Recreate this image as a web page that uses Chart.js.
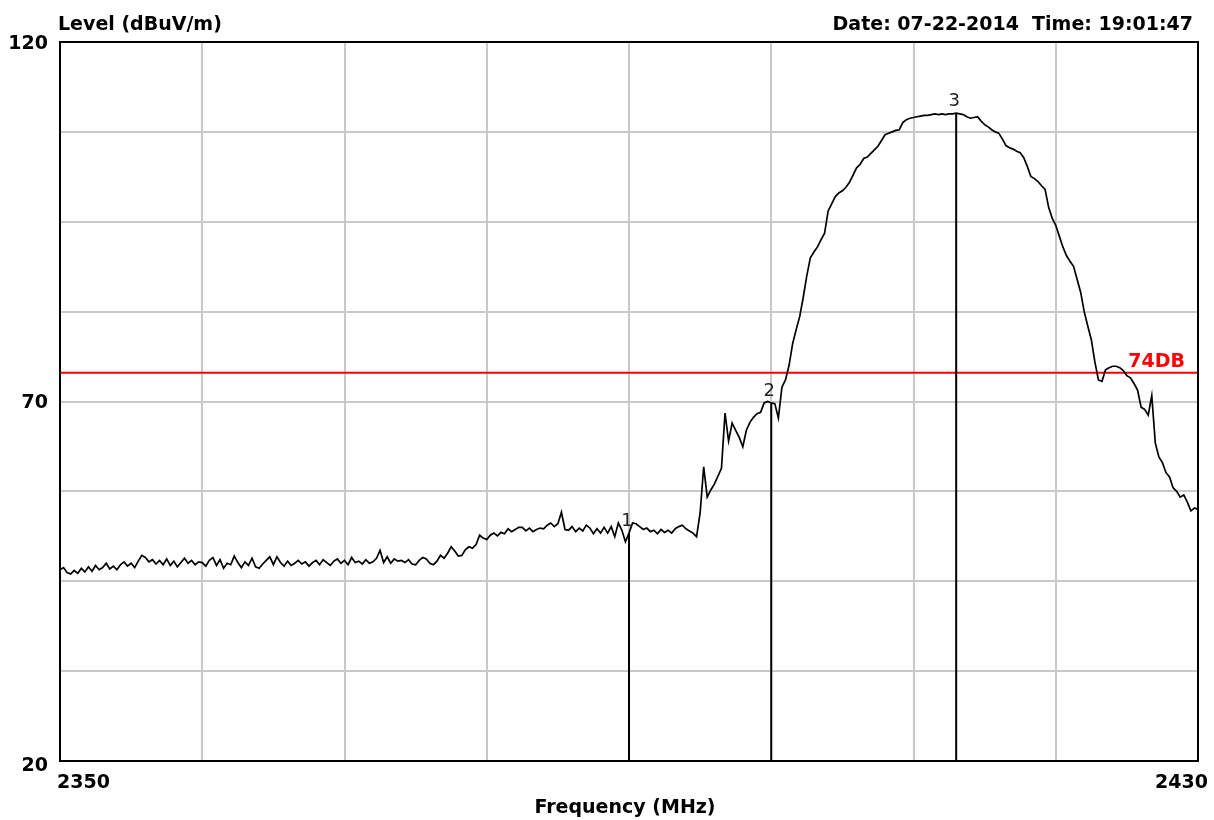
<!DOCTYPE html>
<html>
<head>
<meta charset="utf-8">
<script src="https://cdn.jsdelivr.net/npm/chart.js@4.4.1/dist/chart.umd.min.js"></script>
<style>
  html, body { margin: 0; padding: 0; background: #ffffff; }
  #wrap { width: 1214px; height: 820px; }
</style>
</head>
<body>
<div id="wrap"><canvas id="c" width="1214" height="820"></canvas></div>
<script>
// ---- data ----
const F_START = 2350;
const F_STEP = 0.25;
const LEVELS = [
  46.6, 46.9, 46.2, 46.0,  46.5, 46.1, 46.8, 46.3,  47.0, 46.4, 47.2, 46.6,  46.9, 47.5, 46.7, 47.1,
  46.6, 47.3, 47.7, 47.1,  47.5, 46.9, 47.8, 48.6,  48.3, 47.7, 48.0, 47.4,  47.9, 47.3, 48.1, 47.2,
  47.8, 47.0, 47.6, 48.2,  47.5, 47.9, 47.3, 47.7,  47.6, 47.1, 47.9, 48.3,  47.2, 48.0, 46.8, 47.5,
  47.3, 48.5, 47.6, 46.9,  47.7, 47.2, 48.2, 47.0,  46.8, 47.4, 47.9, 48.4,  47.3, 48.4, 47.6, 47.1,
  47.8, 47.2, 47.5, 47.9,  47.4, 47.7, 47.1, 47.6,  47.9, 47.3, 48.0, 47.6,  47.2, 47.8, 48.1, 47.5,
  47.9, 47.3, 48.3, 47.6,  47.8, 47.4, 48.0, 47.5,  47.7, 48.2, 49.3, 47.6,  48.4, 47.5, 48.1, 47.8,
  47.9, 47.6, 48.0, 47.4,  47.3, 47.9, 48.3, 48.1,  47.5, 47.3, 47.8, 48.6,  48.2, 48.9, 49.8, 49.2,
  48.5, 48.6, 49.4, 49.8,  49.6, 50.1, 51.4, 51.0,  50.8, 51.4, 51.7, 51.3,  51.8, 51.6, 52.3, 51.9,
  52.2, 52.5, 52.5, 52.0,  52.4, 51.9, 52.2, 52.4,  52.3, 52.8, 53.1, 52.6,  53.0, 54.6, 52.2, 52.1,
  52.6, 51.9, 52.4, 52.0,  52.8, 52.4, 51.6, 52.3,  51.7, 52.5, 51.7, 52.6,  51.2, 53.1, 52.1, 50.5,
  51.7, 53.1, 53.0, 52.6,  52.2, 52.4, 51.9, 52.1,  51.6, 52.2, 51.8, 52.1,  51.7, 52.3, 52.6, 52.8,
  52.3, 52.0, 51.7, 51.2,  54.5, 60.9, 56.7, 57.7,  58.5, 59.6, 60.7, 68.4,  64.5, 67.0, 66.0, 65.0,
  63.7, 66.0, 67.1, 67.8,  68.3, 68.5, 69.8, 70.0,  69.8, 69.7, 67.7, 72.0,  73.0, 75.0, 78.0, 80.0,
  81.8, 84.5, 87.5, 90.0,  90.8, 91.5, 92.5, 93.4,  96.5, 97.5, 98.5, 99.0,  99.3, 99.8, 100.5, 101.5,
  102.5, 103.0, 103.8, 104.0,  104.5, 105.0, 105.5, 106.3,  107.1, 107.3, 107.5, 107.7,  107.8, 108.8, 109.2, 109.4,
  109.5, 109.6, 109.7, 109.8,  109.8, 109.9, 110.0, 109.9,  110.0, 109.9, 110.0, 110.0,  110.1, 110.0, 109.9, 109.6,
  109.4, 109.5, 109.6, 109.0,  108.5, 108.2, 107.8, 107.5,  107.3, 106.5, 105.6, 105.3,  105.1, 104.8, 104.6, 103.9,
  102.7, 101.3, 101.0, 100.6,  100.0, 99.5, 97.0, 95.5,  94.5, 93.0, 91.5, 90.3,  89.5, 88.8, 87.0, 85.2,
  82.5, 80.5, 78.6, 75.5,  73.0, 72.8, 74.4, 74.7,  74.9, 74.9, 74.7, 74.3,  73.6, 73.3, 72.5, 71.6,
  69.2, 68.9, 68.1, 70.8,  64.2, 62.3, 61.5, 60.1,  59.5, 58.0, 57.5, 56.7,  57.0, 56.0, 54.8, 55.2,
  55.0
];
const MARKER_FREQ = [2390, 2400, 2413];
const MARKER_LEVEL = [51.7, 69.8, 110.1];
const MARKER_LABELS = ['1', '2', '3'];
const LIMIT_LEVEL = 74;
const LIMIT_LABEL = '74DB';
const Y_TICK_LABELS = [20, 70, 120];
const X_TICK_LABELS = [2350, 2430];
const X_MIN = 2350, X_MAX = 2430, X_STEP = 10;
const Y_MIN = 20, Y_MAX = 120, Y_STEP = 12.5;
const Y_TITLE = 'Level (dBuV/m)';
const X_TITLE = 'Frequency (MHz)';
const STAMP = 'Date: 07-22-2014  Time: 19:01:47';

// ---- build datasets ----
const tracePts = LEVELS.map((v, i) => ({ x: F_START + i * F_STEP, y: v }));
const datasets = [];
datasets.push({
  label: 'trace', data: tracePts, borderColor: '#000000', borderWidth: 1.7,
  pointRadius: 0, tension: 0, fill: false
});
MARKER_FREQ.forEach((f, i) => {
  datasets.push({
    label: 'marker' + MARKER_LABELS[i],
    data: [{ x: f, y: Y_MIN }, { x: f, y: MARKER_LEVEL[i] }],
    borderColor: '#000000', borderWidth: 2, pointRadius: 0, fill: false
  });
});
datasets.push({
  label: 'limit', data: [{ x: X_MIN, y: LIMIT_LEVEL }, { x: X_MAX, y: LIMIT_LEVEL }],
  borderColor: '#ff0000', borderWidth: 2, pointRadius: 0, fill: false
});

const BOLD = 'bold 19px "DejaVu Sans", sans-serif';

const decor = {
  id: 'decor',
  afterDraw(chart) {
    const ctx = chart.ctx;
    const a = chart.chartArea;
    const xs = chart.scales.x, ys = chart.scales.y;
    ctx.save();
    // frame
    ctx.strokeStyle = '#000000';
    ctx.lineWidth = 2;
    ctx.strokeRect(a.left, a.top, a.right - a.left, a.bottom - a.top);

    ctx.fillStyle = '#000000';
    ctx.font = BOLD;
    // y tick labels
    ctx.textAlign = 'right';
    ctx.textBaseline = 'middle';
    Y_TICK_LABELS.forEach(v => {
      let yy = ys.getPixelForValue(v) + 2;
      if (v === Y_MIN) yy += 3;
      ctx.fillText(String(v), a.left - 12, yy);
    });
    // x tick labels
    ctx.textBaseline = 'alphabetic';
    X_TICK_LABELS.forEach((v, i) => {
      const xx = xs.getPixelForValue(v);
      if (i === 0) { ctx.textAlign = 'left'; ctx.fillText(String(v), xx - 3, a.bottom + 27); }
      else { ctx.textAlign = 'right'; ctx.fillText(String(v), xx + 10, a.bottom + 27); }
    });
    // titles
    ctx.textAlign = 'left';
    ctx.fillText(Y_TITLE, a.left - 2, 30);
    ctx.textAlign = 'right';
    ctx.fillText(STAMP, a.right - 5, 30);
    ctx.textAlign = 'center';
    ctx.fillText(X_TITLE, (a.left + a.right) / 2 - 4, 813);
    // limit label
    ctx.fillStyle = '#ff0000';
    ctx.textAlign = 'right';
    ctx.fillText(LIMIT_LABEL, a.right - 13, ys.getPixelForValue(LIMIT_LEVEL) - 6);
    // marker labels
    ctx.fillStyle = '#222222';
    ctx.font = '18px "DejaVu Sans", sans-serif';
    ctx.textAlign = 'center';
    MARKER_FREQ.forEach((f, i) => {
      ctx.fillText(MARKER_LABELS[i], xs.getPixelForValue(f) - 2, ys.getPixelForValue(MARKER_LEVEL[i]) - 7);
    });
    ctx.restore();
  }
};

new Chart(document.getElementById('c'), {
  type: 'line',
  data: { datasets },
  options: {
    responsive: false,
    animation: false,
    devicePixelRatio: 1,
    layout: { padding: { left: 60, top: 42, right: 16, bottom: 59 } },
    plugins: { legend: { display: false }, tooltip: { enabled: false } },
    scales: {
      x: {
        type: 'linear', min: X_MIN, max: X_MAX,
        ticks: { display: false, stepSize: X_STEP },
        grid: { color: '#c8c8c8', lineWidth: 2, drawTicks: false },
        border: { display: false },
        afterFit(s) { s.height = 0; }
      },
      y: {
        type: 'linear', min: Y_MIN, max: Y_MAX,
        ticks: { display: false, stepSize: Y_STEP },
        grid: { color: '#c8c8c8', lineWidth: 2, drawTicks: false },
        border: { display: false },
        afterFit(s) { s.width = 0; }
      }
    }
  },
  plugins: [decor]
});
</script>
</body>
</html>
